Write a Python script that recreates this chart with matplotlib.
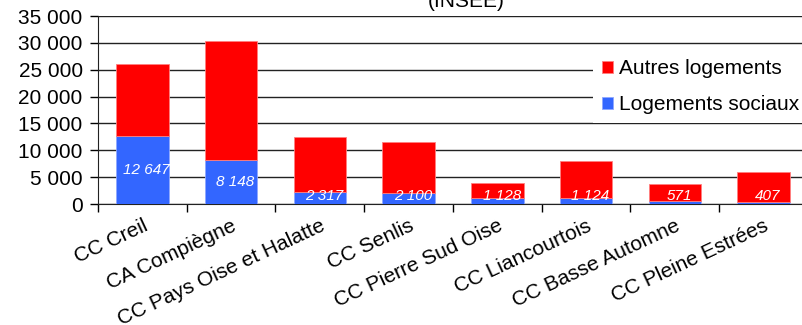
import numpy as np
import matplotlib
matplotlib.use('Agg')
import matplotlib.pyplot as plt
from matplotlib.ticker import FuncFormatter, FixedLocator

plt.rcParams['font.family'] = ['Liberation Sans', 'DejaVu Sans']

# Logements par intercommunalité (INSEE)
territoires = ['CC Creil', 'CA Compiègne', 'CC Pays Oise et Halatte', 'CC Senlis',
               'CC Pierre Sud Oise', 'CC Liancourtois', 'CC Basse Automne',
               'CC Pleine Estrées']
logements_sociaux = [12647, 8148, 2317, 2100, 1128, 1124, 571, 407]
total_logements = [26100, 30300, 12500, 11500, 4000, 8000, 3750, 6000]
autres_logements = [t - s for t, s in zip(total_logements, logements_sociaux)]

RED = '#ff0000'
BLUE = '#3366ff'

fig = plt.figure(figsize=(8.03, 3.25), dpi=100)
W, H = 803, 325
ax = fig.add_axes([98 / W, (H - 204) / H, 710 / W, 188 / H])

x = np.arange(len(territoires))
b_soc = ax.bar(x, logements_sociaux, width=0.59, color=BLUE, edgecolor='#8fa8ff',
               linewidth=0.6, label='Logements sociaux', zorder=3)
b_aut = ax.bar(x, autres_logements, width=0.59, bottom=logements_sociaux, color=RED,
               edgecolor='#ff8080', linewidth=0.6, label='Autres logements', zorder=3)

def fmt(v):
    return f'{v:,.0f}'.replace(',', ' ')

# valeurs des logements sociaux dans les barres
for xi, v in zip(x, logements_sociaux):
    ax.text(xi + 0.05, max(v / 2, 1500), fmt(v), color='white', style='italic',
            fontsize=11, ha='center', va='center', zorder=4)

ax.set_xlim(-0.5, len(territoires) - 0.5)
ax.set_ylim(0, 35000)
ax.set_yticks(np.arange(0, 35001, 5000))
ax.yaxis.set_major_formatter(FuncFormatter(lambda v, _: fmt(v)))
ax.tick_params(axis='y', length=6, width=1, labelsize=15, pad=5)
ax.grid(axis='y', color='#222222', linewidth=1, zorder=0)

ax.set_xticks(x)
ax.set_xticklabels(territoires, rotation=25, ha='right',
                   rotation_mode='anchor', fontsize=15)
ax.tick_params(axis='x', length=0, pad=9)
ax.xaxis.set_minor_locator(FixedLocator(np.arange(-0.5, len(territoires), 1)))
ax.tick_params(axis='x', which='minor', length=6, width=1)

for side in ['top', 'right']:
    ax.spines[side].set_visible(False)
ax.spines['left'].set_color('#222222')
ax.spines['bottom'].set_color('#222222')

leg = ax.legend([b_aut, b_soc], ['Autres logements', 'Logements sociaux'],
                loc='upper left', bbox_to_anchor=(593 / W, 1 - 50 / H),
                bbox_transform=fig.transFigure, frameon=True, fontsize=15,
                handlelength=0.5, handleheight=0.5, handletextpad=0.3,
                labelspacing=0.8, borderaxespad=0, borderpad=0.45, fancybox=False)
leg.get_frame().set_edgecolor('none')
leg.get_frame().set_facecolor('white')
leg.get_frame().set_alpha(1)
leg.set_zorder(5)

fig.text(466 / W, 1 - 7 / H, '(INSEE)', fontsize=15, ha='center', va='baseline')

fig.savefig('out.png', dpi=100)
